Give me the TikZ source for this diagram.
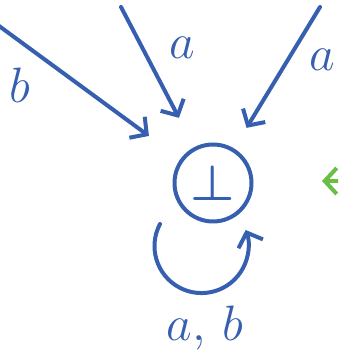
\documentclass[tikz,border=0pt]{standalone}
\usepackage{tikz}
\usetikzlibrary{arrows.meta}
\definecolor{penblue}{RGB}{55,95,175}
\definecolor{pengreen}{RGB}{105,190,70}

\begin{document}
\begin{tikzpicture}[
  x=0.5pt, y=0.5pt,
  state/.style={draw=penblue, circle, line width=2pt, minimum size=38.5pt, inner sep=0pt, text=penblue, font=\fontsize{23}{23}\selectfont\boldmath},
  lbl/.style={text=penblue, font=\fontsize{24}{24}\selectfont},
  arrow/.style={-{Straight Barb[length=6pt, width=13pt]}, draw=penblue, line width=2pt, line cap=round},
  startarrow/.style={arrow, draw=pengreen}
]
  \clip (0,0) rectangle (338,363);

  \node[state] (q) at (213,180) {$\bot$};

  \coordinate (fromb) at (-5,340);
  \coordinate (froma) at (121,356);
  \coordinate (fromaa) at (320,356);
  \coordinate (loopbeg) at (160,139);
  \coordinate (startfrom) at (370,182);
  \coordinate (startto) at (322,182);

  \draw[arrow, shorten >=19.5pt] (fromb) -- (q);
  \draw[arrow, shorten >=16.5pt] (froma) -- (q);
  \draw[arrow, shorten >=12pt] (fromaa) -- (q);
  \draw[arrow] (loopbeg) arc[start angle=152, end angle=380, radius=23.5pt];
  \draw[startarrow] (startfrom) -- (startto);

  \node[lbl] (lb) at (20,278) {$b$};
  \node[lbl] (la) at (182,315) {$a$};
  \node[lbl] (laa) at (322,303) {$a$};
  \node[lbl] (lab) at (205,35) {$a,\,b$};
\end{tikzpicture}
\end{document}
